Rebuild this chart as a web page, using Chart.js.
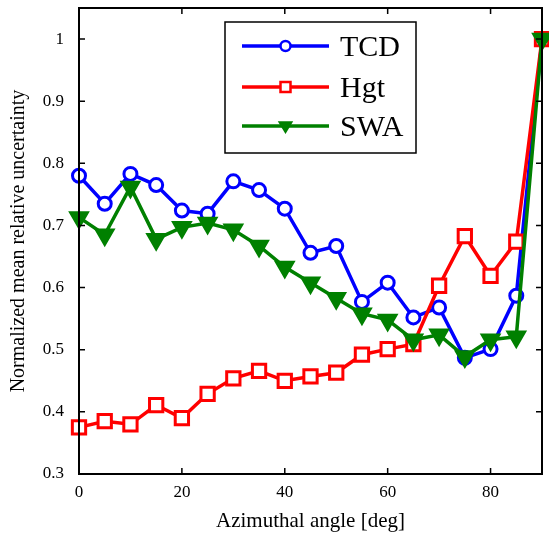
<!DOCTYPE html>
<html>
<head>
<meta charset="utf-8">
<script src="https://cdn.jsdelivr.net/npm/chart.js@4/dist/chart.umd.min.js"></script>
<style>
  html, body { margin: 0; padding: 0; background: #fff; }
  #c { display: block; }
</style>
</head>
<body>
<canvas id="c" width="549" height="534"></canvas>
<script>
// Azimuthal angle samples (deg)
const angles = [0, 5, 10, 15, 20, 25, 30, 35, 40, 45, 50, 55, 60, 65, 70, 75, 80, 85, 90];

// Normalized mean relative uncertainty per method
const tcd = [0.780, 0.735, 0.783, 0.765, 0.724, 0.719, 0.771, 0.757, 0.727, 0.656, 0.667, 0.577, 0.608, 0.552, 0.568, 0.487, 0.501, 0.587, 1.0];
const hgt = [0.375, 0.385, 0.380, 0.411, 0.390, 0.429, 0.454, 0.466, 0.450, 0.457, 0.463, 0.492, 0.501, 0.509, 0.603, 0.683, 0.619, 0.674, 1.0];
const swa = [0.713, 0.685, 0.762, 0.678, 0.697, 0.704, 0.693, 0.667, 0.633, 0.608, 0.583, 0.558, 0.548, 0.516, 0.524, 0.489, 0.516, 0.521, 1.0];

const seriesNames = ['TCD', 'Hgt', 'SWA'];
const xTicks = [0, 20, 40, 60, 80];
const yTicks = [0.3, 0.4, 0.5, 0.6, 0.7, 0.8, 0.9, 1.0];

const FONT = '"Liberation Serif", "Times New Roman", serif';
const BLUE = '#0000ff', RED = '#ff0000', GREEN = '#008000';

const toPoints = ys => angles.map((x, i) => ({ x, y: ys[i] }));

// Frame with inward ticks on all four sides
const framePlugin = {
  id: 'frame',
  afterDatasetsDraw(chart) {
    const { ctx, chartArea: a, scales } = chart;
    ctx.save();
    ctx.strokeStyle = '#000';
    ctx.lineWidth = 1.5;
    const len = 6;
    ctx.beginPath();
    for (const v of xTicks) {
      if (v === 0) continue;
      const px = scales.x.getPixelForValue(v);
      ctx.moveTo(px, a.bottom); ctx.lineTo(px, a.bottom - len);
      ctx.moveTo(px, a.top); ctx.lineTo(px, a.top + len);
    }
    for (const v of yTicks) {
      const py = scales.y.getPixelForValue(v);
      ctx.moveTo(a.left, py); ctx.lineTo(a.left + len, py);
      ctx.moveTo(a.right, py); ctx.lineTo(a.right - len, py);
    }
    ctx.stroke();
    ctx.lineWidth = 2;
    ctx.strokeRect(a.left, a.top, a.right - a.left, a.bottom - a.top);
    ctx.restore();
  }
};

function drawMarker(ctx, style, x, y, r, color) {
  ctx.beginPath();
  if (style === 'circle') {
    ctx.arc(x, y, r, 0, Math.PI * 2);
    ctx.fillStyle = '#fff';
  } else if (style === 'rect') {
    ctx.rect(x - r, y - r, 2 * r, 2 * r);
    ctx.fillStyle = '#fff';
  } else {
    ctx.moveTo(x - r * 1.1, y - r * 0.7);
    ctx.lineTo(x + r * 1.1, y - r * 0.7);
    ctx.lineTo(x, y + r * 1.1);
    ctx.closePath();
    ctx.fillStyle = color;
  }
  ctx.fill();
  ctx.stroke();
}

// Legend box with line + marker samples
const legendPlugin = {
  id: 'boxLegend',
  afterDraw(chart) {
    const { ctx } = chart;
    const box = { l: 225, t: 22, r: 416, b: 153 };
    const rows = [46, 87, 126];
    const styles = [['circle', BLUE], ['rect', RED], ['tri', GREEN]];
    ctx.save();
    ctx.fillStyle = '#fff';
    ctx.fillRect(box.l, box.t, box.r - box.l, box.b - box.t);
    ctx.strokeStyle = '#000';
    ctx.lineWidth = 1.5;
    ctx.strokeRect(box.l, box.t, box.r - box.l, box.b - box.t);
    seriesNames.forEach((name, i) => {
      const y = rows[i];
      const [st, col] = styles[i];
      ctx.strokeStyle = col;
      ctx.lineWidth = 3.5;
      ctx.beginPath();
      ctx.moveTo(242, y); ctx.lineTo(329, y);
      ctx.stroke();
      ctx.lineWidth = 2.5;
      drawMarker(ctx, st, 285.5, y, 5, col);
      ctx.fillStyle = '#000';
      ctx.font = '30px ' + FONT;
      ctx.textBaseline = 'middle';
      ctx.textAlign = 'left';
      ctx.fillText(name, 340, y + 2);
    });
    ctx.restore();
  }
};

const common = { fill: false, tension: 0, borderWidth: 3.5, clip: false };

const fixPad = s => { s.paddingTop = 0; s.paddingBottom = 0; s.paddingLeft = 0; s.paddingRight = 0; };

new Chart(document.getElementById('c'), {
  type: 'line',
  data: {
    datasets: [
      { ...common, label: seriesNames[0], data: toPoints(tcd), borderColor: BLUE,
        pointStyle: 'circle', pointRadius: 6.5, pointBorderWidth: 3,
        pointBackgroundColor: '#fff', pointBorderColor: BLUE, order: 3 },
      { ...common, label: seriesNames[1], data: toPoints(hgt), borderColor: RED,
        pointStyle: 'rect', pointRadius: 9.4, pointBorderWidth: 3,
        pointBackgroundColor: '#fff', pointBorderColor: RED, order: 2 },
      { ...common, label: seriesNames[2], data: toPoints(swa), borderColor: GREEN,
        pointStyle: 'triangle', pointRotation: 180, pointRadius: 10.5, pointBorderWidth: 2,
        pointBackgroundColor: GREEN, pointBorderColor: GREEN, order: 1 }
    ]
  },
  options: {
    responsive: false,
    animation: false,
    events: [],
    layout: { autoPadding: false, padding: { top: 8, right: 7, left: 0, bottom: 0 } },
    plugins: { legend: { display: false }, tooltip: { enabled: false } },
    scales: {
      x: {
        type: 'linear', min: 0, max: 90,
        afterFit: s => { s.height = 60; fixPad(s); },
        afterBuildTicks: s => { s.ticks = xTicks.map(v => ({ value: v })); },
        grid: { display: false, drawTicks: false },
        border: { display: false },
        ticks: { color: '#000', font: { family: FONT, size: 17 }, padding: 8, maxRotation: 0 },
        title: { display: true, text: 'Azimuthal angle [deg]', color: '#000',
                 font: { family: FONT, size: 21 }, padding: { top: 4, bottom: 0 } }
      },
      y: {
        type: 'linear', min: 0.3, max: 1.05,
        afterFit: s => { s.width = 79; fixPad(s); },
        afterBuildTicks: s => { s.ticks = yTicks.map(v => ({ value: v })); },
        grid: { display: false, drawTicks: false },
        border: { display: false },
        ticks: { color: '#000', font: { family: FONT, size: 17 }, padding: 15,
                 callback: v => String(Math.round(v * 10) / 10) },
        title: { display: true, text: 'Normalized mean relative uncertainty', color: '#000',
                 font: { family: FONT, size: 20 }, padding: { top: 7, bottom: 0 } }
      }
    }
  },
  plugins: [framePlugin, legendPlugin]
});
</script>
</body>
</html>
